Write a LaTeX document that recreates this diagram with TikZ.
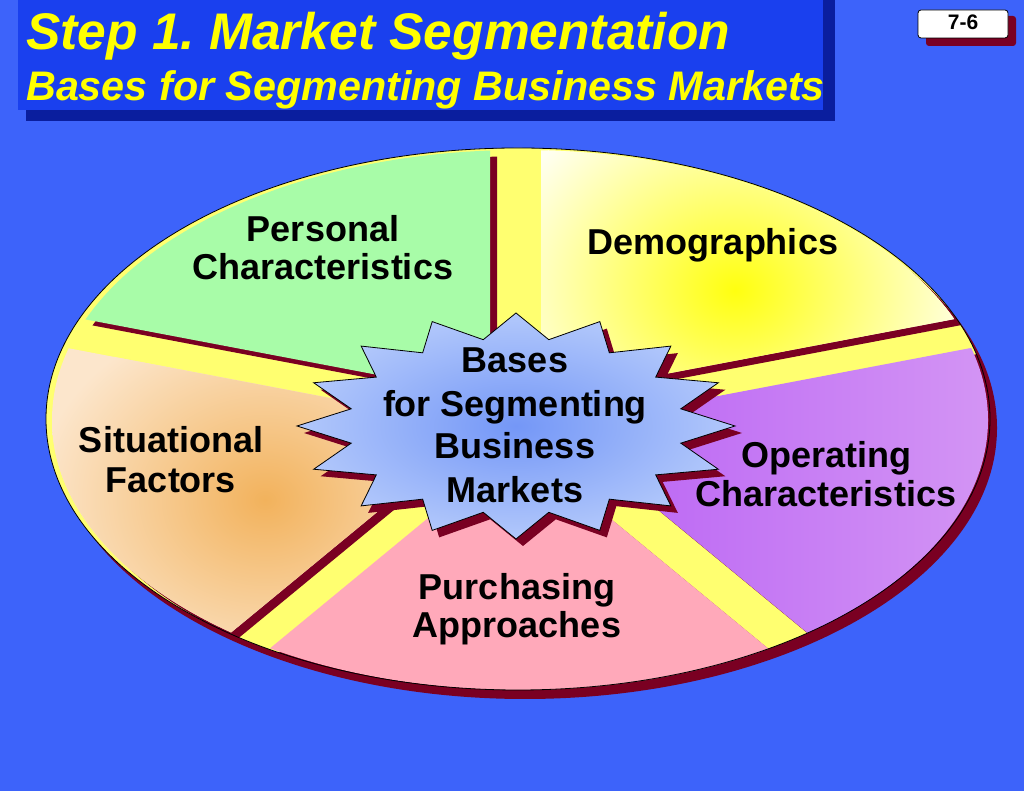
\documentclass[tikz,border=0pt]{standalone}
\usepackage{fontspec}
\setmainfont{Liberation Sans}
\frenchspacing
\definecolor{bg}{HTML}{3D63FA}
\definecolor{titlebox}{HTML}{1A40EE}
\definecolor{titleshadow}{HTML}{0A1E9E}
\definecolor{maroon}{HTML}{7A0022}
\definecolor{gapyellow}{HTML}{FFFF70}
\definecolor{wgreen}{HTML}{A8FCA8}
\definecolor{wpink}{HTML}{FFA9BA}
\definecolor{demoout}{HTML}{FFFFF2}
\definecolor{demoin}{HTML}{FFFF10}
\definecolor{orangein}{HTML}{F2B25C}
\definecolor{orangeout}{HTML}{FCE6CC}
\definecolor{purpleleft}{HTML}{B860F4}
\definecolor{purpleright}{HTML}{D496F4}
\definecolor{starin}{HTML}{7497F7}
\definecolor{starout}{HTML}{B2C8FB}
\definecolor{titletext}{HTML}{FFFF00}
\newcommand\hplane[2]{\clip[shift={(#1)},rotate=#2] (-1600,0) rectangle (1600,1600);}
\newcommand\wclipG{\hplane{490,0}{90}\hplane{378,416}{-10.76}}
\newcommand\wclipD{\hplane{541,0}{-90}\hplane{660,416}{10.76}}
\newcommand\wclipP{\hplane{713,394}{190.76}\hplane{810,156}{-39.5}}
\newcommand\wclipK{\hplane{770,141}{140.5}\hplane{268,141}{219.5}}
\newcommand\wclipO{\hplane{228,156}{39.5}\hplane{325,394}{169.24}}
\newcommand\wedgeshape{(520,371) ellipse (468 and 270)}
\newcommand\baseshape{(518,372) ellipse (472 and 271)}
\tikzset{
  titletxt/.style={text=titletext, inner sep=0pt, anchor=base west},
  lbl/.style={font=\fontsize{36}{40}\selectfont\bfseries, text=black, inner sep=0pt, anchor=base},
  pgnum/.style={font=\fontsize{21}{24}\selectfont\bfseries, text=black, inner sep=0pt, anchor=base},
}
\begin{document}
\begin{tikzpicture}[x=1pt,y=1pt]
\useasboundingbox (0,0) rectangle (1024,791);
\fill[bg] (0,0) rectangle (1024,791);
% title box
\fill[titleshadow] (26,670) rectangle (835,791);
\fill[titlebox] (18,681) rectangle (823,791);
\node[titletxt, font=\fontsize{51.5}{60}\selectfont\bfseries\itshape] (t1) at (26,741) {Step 1. Market Segmentation};
\node[titletxt, font=\fontsize{41.3}{48}\selectfont\bfseries\itshape] (t2) at (26,690) {Bases for Segmenting Business Markets};
% page number box
\fill[maroon, rounded corners=3] (926,745) rectangle (1016,775);
\draw[black, line width=0.8, fill=white, rounded corners=3] (918,753) rectangle (1008,781);
\node[pgnum] (pg) at (963,761) {7-6};
% pie base
\fill[maroon] (525,363) ellipse (472 and 271);
\fill[gapyellow] \baseshape;
% wedge shadows
\begin{scope}[shift={(7,-6)}]
  \begin{scope}\wclipG \fill[maroon] \wedgeshape; \end{scope}
  \begin{scope}\wclipD \fill[maroon] \wedgeshape; \end{scope}
  \begin{scope}\wclipP \fill[maroon] \wedgeshape; \end{scope}
  \begin{scope}\wclipK \fill[maroon] \wedgeshape; \end{scope}
  \begin{scope}\wclipO \fill[maroon] \wedgeshape; \end{scope}
\end{scope}
% wedges
\begin{scope}\wclipG \fill[wgreen] \wedgeshape; \end{scope}
\begin{scope}\wclipD \fill[demoout] \wedgeshape; \clip \wedgeshape;
  \shade[inner color=demoin, outer color=demoout] (735,501) ellipse (250 and 210); \end{scope}
\begin{scope}\wclipP \clip \wedgeshape;
  \shade[left color=purpleleft, right color=purpleright] (560,80) rectangle (1000,480); \end{scope}
\begin{scope}\wclipK \fill[wpink] \wedgeshape; \end{scope}
\begin{scope}\wclipO \fill[orangeout] \wedgeshape; \clip \wedgeshape;
  \shade[inner color=orangein, outer color=orangeout] (265,291) ellipse (230 and 190); \end{scope}
\draw[black, line width=0.8] \baseshape;
% starburst
\begin{scope}[shift={(7,-7)}]
\fill[maroon] (516,478) \foreach \a in {0,22.5,...,337.5}{ -- ({516+219*cos(90+\a)},{365+113*sin(90+\a)}) -- ({516+168*cos(101.25+\a)},{365+88*sin(101.25+\a)}) } -- cycle;
\end{scope}
\shadedraw[inner color=starin, outer color=starout, draw=black, line width=0.8] (516,478) \foreach \a in {0,22.5,...,337.5}{ -- ({516+219*cos(90+\a)},{365+113*sin(90+\a)}) -- ({516+168*cos(101.25+\a)},{365+88*sin(101.25+\a)}) } -- cycle;
% center text
\node[lbl] (c1) at (515,418) {Bases};
\node[lbl] (c2) at (515,374) {for Segmenting};
\node[lbl] (c3) at (515,332) {Business};
\node[lbl] (c4) at (515,288) {Markets};
% segment labels
\node[lbl] (p1) at (323,549) {Personal};
\node[lbl] (p2) at (323,511) {Characteristics};
\node[lbl] (d1) at (713,536) {Demographics};
\node[lbl] (s1) at (171,338) {Situational};
\node[lbl] (s2) at (171,298) {Factors};
\node[lbl] (u1) at (517,191) {Purchasing};
\node[lbl] (u2) at (517,153) {Approaches};
\node[lbl] (o1) at (826,323) {Operating};
\node[lbl] (o2) at (826,284) {Characteristics};
\end{tikzpicture}
\end{document}
